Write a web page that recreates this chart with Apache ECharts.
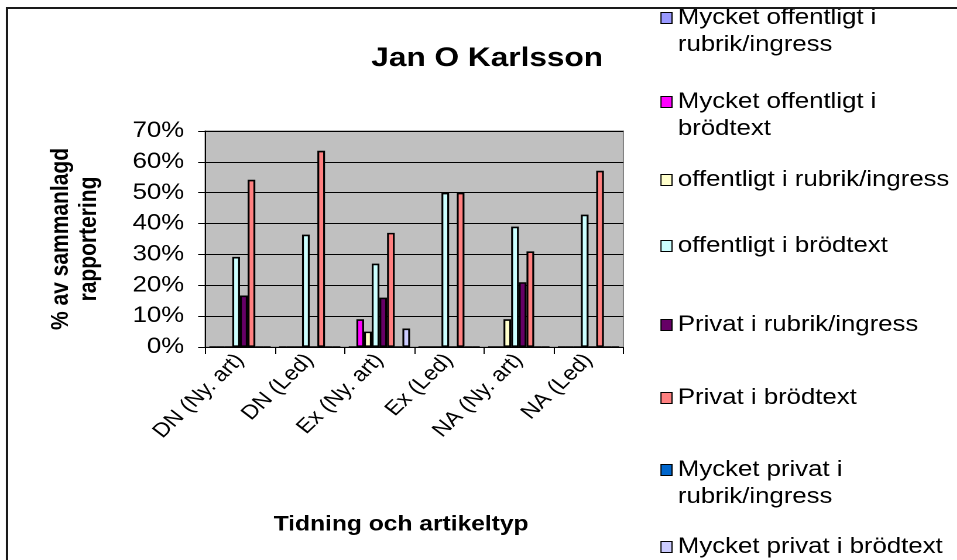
<!DOCTYPE html>
<html>
<head>
<meta charset="utf-8">
<script src="https://cdn.jsdelivr.net/npm/echarts@6/dist/echarts.min.js"></script>
<style>
html,body{margin:0;padding:0;background:#fff;overflow:hidden}
#wrap{width:957px;height:560px;overflow:hidden;position:relative}
#c{position:absolute;left:0;top:0;height:560px;transform-origin:0 0}
</style>
</head>
<body>
<div id="wrap"><div id="c"></div></div>
<script>
const categories = ['DN (Ny. art)', 'DN (Led)', 'Ex (Ny. art)', 'Ex (Led)', 'NA (Ny. art)', 'NA (Led)'];
const seriesNames = [
  'Mycket offentligt i rubrik/ingress',
  'Mycket offentligt i brödtext',
  'offentligt i rubrik/ingress',
  'offentligt i brödtext',
  'Privat i rubrik/ingress',
  'Privat i brödtext',
  'Mycket privat i rubrik/ingress',
  'Mycket privat i brödtext'
];
const mycketOffRubrik = [0, 0, 0, 0, 0, 0];
const mycketOffBrod   = [0, 0, 9, 0, 0, 0];
const offRubrik       = [0, 0, 5, 0, 9, 0];
const offBrod         = [29.2, 36.4, 27, 50, 39, 42.9];
const privRubrik      = [16.7, 0, 16, 0, 21, 0];
const privBrod        = [54.2, 63.6, 37, 50, 31, 57.1];
const mycketPrivRubrik= [0, 0, 0, 0, 0, 0];
const mycketPrivBrod  = [0, 0, 6, 0, 0, 0];
const yTicks = [0, 10, 20, 30, 40, 50, 60, 70];

const seriesData = [mycketOffRubrik, mycketOffBrod, offRubrik, offBrod, privRubrik, privBrod, mycketPrivRubrik, mycketPrivBrod];
const colors = ['#9999FF', '#FF00FF', '#FFFFCC', '#CCFFFF', '#660066', '#FF8080', '#0066CC', '#CCCCFF'];
const legendLabels = [
  '\nMycket offentligt i\nrubrik/ingress',
  '\nMycket offentligt i\nbrödtext',
  'offentligt i rubrik/ingress',
  'offentligt i brödtext',
  'Privat i rubrik/ingress',
  'Privat i brödtext',
  '\nMycket privat i\nrubrik/ingress',
  'Mycket privat i brödtext'
];
const legendLineCenters = [18, 102, 180, 246, 325, 398, 470, 547];

// The reference picture is horizontally stretched; layout is done in
// unstretched units and the whole chart is widened with a CSS scaleX.
const S = 1.17;
const W = 957 / S;
const X = v => v / S;

const el = document.getElementById('c');
el.style.width = W + 'px';
el.style.transform = 'scaleX(' + S + ')';

const FF = "'Liberation Sans', Arial, sans-serif";
const LH = 27;
const LFS = 22;

const chart = echarts.init(el, null, {renderer: 'canvas', devicePixelRatio: 2, width: W, height: 560});

const legends = seriesNames.map((n, i) => {
  const lines = legendLabels[i].split('\n').length;
  return {
    show: true,
    orient: 'vertical',
    left: X(660),
    top: legendLineCenters[i] - (lines === 1 ? LH / 2 : 1.5 * LH),
    padding: 0,
    itemWidth: X(11),
    itemHeight: 11,
    icon: 'rect',
    selectedMode: false,
    data: [n],
    formatter: () => legendLabels[i],
    itemStyle: {borderColor: '#000', borderWidth: 1},
    textStyle: {fontFamily: FF, fontSize: LFS, color: '#000', lineHeight: LH}
  };
});

const option = {
  animation: false,
  backgroundColor: '#fff',
  title: [
    {text: 'Jan O Karlsson', left: X(481), top: 40, textAlign: 'center',
     textStyle: {fontFamily: FF, fontWeight: 'bold', fontSize: 27, color: '#000'}},
    {text: 'Tidning och artikeltyp', left: X(395), top: 509, textAlign: 'center',
     textStyle: {fontFamily: FF, fontWeight: 'bold', fontSize: 21, color: '#000'}}
  ],
  legend: legends,
  grid: {
    left: X(205), top: 131, width: X(418), height: 216,
    show: true, backgroundColor: '#C0C0C0', borderColor: '#808080', borderWidth: 1
  },
  xAxis: {
    type: 'category',
    data: categories,
    axisLine: {show: true, lineStyle: {color: '#000', width: 1}},
    axisTick: {show: true, alignWithLabel: false, length: 7, lineStyle: {color: '#000'}},
    axisLabel: {rotate: 48, margin: 10, fontFamily: FF, fontSize: 20, color: '#000', interval: 0},
    splitLine: {show: false}
  },
  yAxis: {
    type: 'value',
    min: yTicks[0], max: yTicks[yTicks.length - 1], interval: 10,
    name: '% av sammanlagd\nrapportering',
    nameLocation: 'middle',
    nameGap: 87,
    nameRotate: 90,
    nameTextStyle: {fontFamily: FF, fontWeight: 'bold', fontSize: 21, color: '#000', lineHeight: 24},
    axisLine: {show: true, lineStyle: {color: '#000', width: 1}},
    axisTick: {show: true, length: X(7), lineStyle: {color: '#000'}},
    axisLabel: {formatter: '{value}%', margin: X(21), fontFamily: FF, fontSize: 22, color: '#000'},
    splitLine: {show: true, lineStyle: {color: '#000', width: 1}}
  },
  series: seriesNames.map((n, i) => ({
    name: n,
    type: 'bar',
    data: seriesData[i],
    barGap: '0%',
    barCategoryGap: '12%',
    itemStyle: {color: colors[i], borderColor: '#000', borderWidth: 1.6}
  })),
  graphic: [{
    type: 'rect', silent: true, z: 100,
    shape: {x: X(7), y: 8, width: 1000, height: 600},
    style: {fill: 'none', stroke: '#1a1a1a', lineWidth: 2}
  }]
};
chart.setOption(option);
</script>
</body>
</html>
